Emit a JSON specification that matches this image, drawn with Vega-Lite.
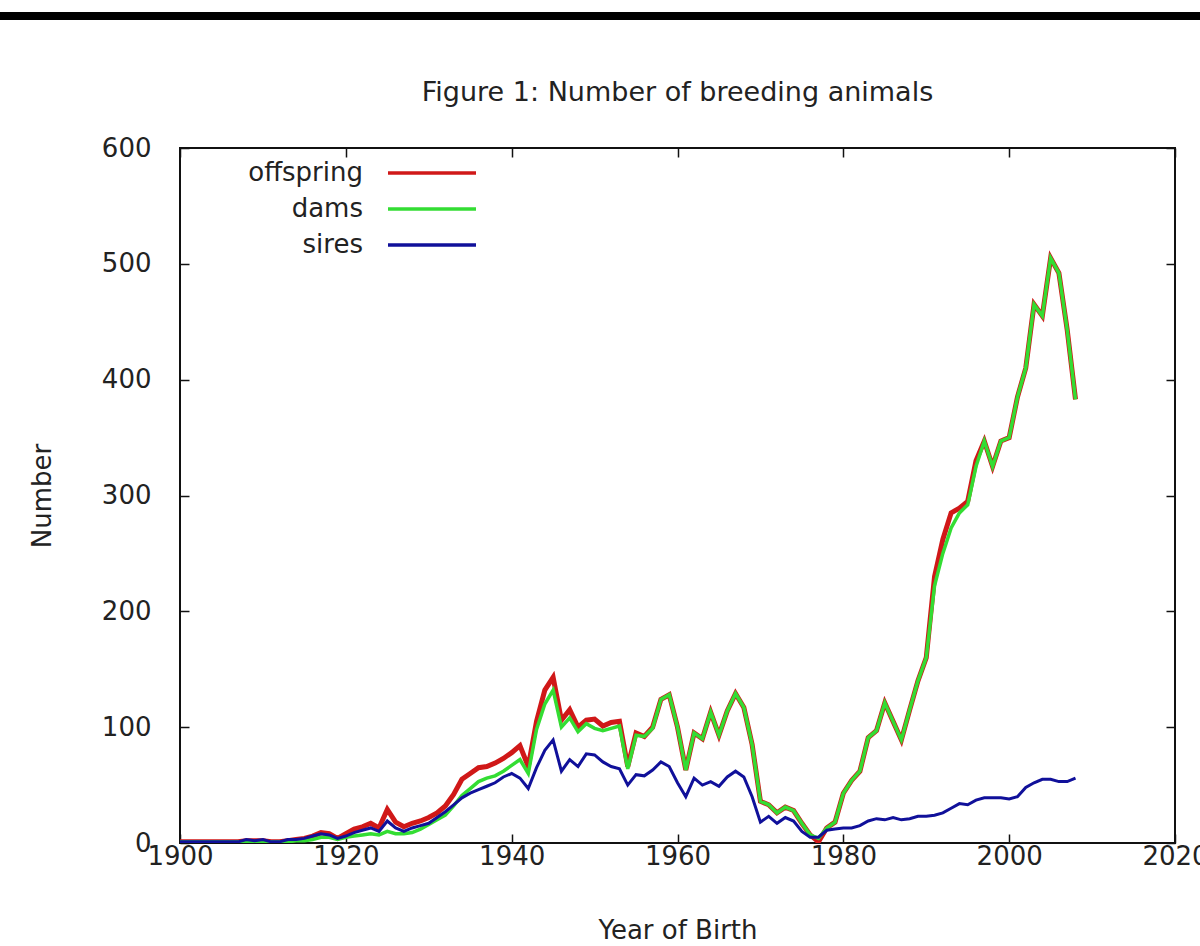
{
  "$schema": "https://vega.github.io/schema/vega-lite/v6.json",
  "width": 995,
  "height": 695,
  "autosize": {"type": "none"},
  "padding": {"left": 180, "top": 148, "right": 25, "bottom": 103},
  "background": "white",
  "title": {"text": "Figure 1: Number of breeding animals", "fontSize": 27, "font": "DejaVu Sans", "fontWeight": "normal", "color": "#222", "baseline": "alphabetic", "offset": -116},
  "config": {
    "view": {"stroke": "#111", "strokeWidth": 2},
    "axis": {"labelFont": "DejaVu Sans", "labelFontSize": 26, "labelColor": "#222", "titleFont": "DejaVu Sans", "titleFontSize": 26, "titleFontWeight": "normal", "titleColor": "#222", "grid": false, "domain": false, "tickColor": "#111", "tickWidth": 1.5, "tickSize": -9, "labelFlush": false},
    "legend": {"orient": "none", "legendX": 239, "legendY": 12, "direction": "vertical", "padding": 0, "symbolType": "M-8,0H8", "symbolSize": 121, "symbolStrokeWidth": 3.5, "rowPadding": 10, "labelAlign": "right", "labelOffset": -82, "labelFont": "DejaVu Sans", "labelFontSize": 26, "labelColor": "#222", "labelLimit": 0, "title": null}
  },
  "data": {"values": [
    {"year": 1900, "offspring": 1, "dams": 1, "sires": 1},
    {"year": 1901, "offspring": 1, "dams": 1, "sires": 1},
    {"year": 1902, "offspring": 1, "dams": 1, "sires": 1},
    {"year": 1903, "offspring": 1, "dams": 1, "sires": 1},
    {"year": 1904, "offspring": 1, "dams": 1, "sires": 1},
    {"year": 1905, "offspring": 1, "dams": 1, "sires": 1},
    {"year": 1906, "offspring": 1, "dams": 1, "sires": 1},
    {"year": 1907, "offspring": 1, "dams": 1, "sires": 1},
    {"year": 1908, "offspring": 2, "dams": 1, "sires": 3},
    {"year": 1909, "offspring": 2, "dams": 1, "sires": 2},
    {"year": 1910, "offspring": 2, "dams": 1, "sires": 3},
    {"year": 1911, "offspring": 1, "dams": 1, "sires": 1},
    {"year": 1912, "offspring": 1, "dams": 1, "sires": 1},
    {"year": 1913, "offspring": 2, "dams": 1, "sires": 3},
    {"year": 1914, "offspring": 3, "dams": 2, "sires": 3},
    {"year": 1915, "offspring": 4, "dams": 2, "sires": 4},
    {"year": 1916, "offspring": 6, "dams": 3, "sires": 6},
    {"year": 1917, "offspring": 9, "dams": 5, "sires": 8},
    {"year": 1918, "offspring": 8, "dams": 5, "sires": 7},
    {"year": 1919, "offspring": 4, "dams": 3, "sires": 4},
    {"year": 1920, "offspring": 8, "dams": 5, "sires": 6},
    {"year": 1921, "offspring": 12, "dams": 6, "sires": 9},
    {"year": 1922, "offspring": 14, "dams": 7, "sires": 11},
    {"year": 1923, "offspring": 17, "dams": 8, "sires": 13},
    {"year": 1924, "offspring": 13, "dams": 7, "sires": 10},
    {"year": 1925, "offspring": 29, "dams": 10, "sires": 19},
    {"year": 1926, "offspring": 18, "dams": 8, "sires": 13},
    {"year": 1927, "offspring": 14, "dams": 8, "sires": 10},
    {"year": 1928, "offspring": 17, "dams": 9, "sires": 13},
    {"year": 1929, "offspring": 19, "dams": 12, "sires": 15},
    {"year": 1930, "offspring": 22, "dams": 16, "sires": 17},
    {"year": 1931, "offspring": 26, "dams": 20, "sires": 22},
    {"year": 1932, "offspring": 32, "dams": 24, "sires": 27},
    {"year": 1933, "offspring": 42, "dams": 32, "sires": 33},
    {"year": 1934, "offspring": 55, "dams": 41, "sires": 39},
    {"year": 1935, "offspring": 60, "dams": 47, "sires": 43},
    {"year": 1936, "offspring": 65, "dams": 53, "sires": 46},
    {"year": 1937, "offspring": 66, "dams": 56, "sires": 49},
    {"year": 1938, "offspring": 69, "dams": 58, "sires": 52},
    {"year": 1939, "offspring": 73, "dams": 62, "sires": 57},
    {"year": 1940, "offspring": 78, "dams": 67, "sires": 60},
    {"year": 1941, "offspring": 84, "dams": 72, "sires": 56},
    {"year": 1942, "offspring": 66, "dams": 60, "sires": 47},
    {"year": 1943, "offspring": 105, "dams": 98, "sires": 65},
    {"year": 1944, "offspring": 132, "dams": 120, "sires": 80},
    {"year": 1945, "offspring": 143, "dams": 132, "sires": 89},
    {"year": 1946, "offspring": 106, "dams": 100, "sires": 62},
    {"year": 1947, "offspring": 115, "dams": 108, "sires": 72},
    {"year": 1948, "offspring": 100, "dams": 96, "sires": 66},
    {"year": 1949, "offspring": 106, "dams": 103, "sires": 77},
    {"year": 1950, "offspring": 107, "dams": 99, "sires": 76},
    {"year": 1951, "offspring": 101, "dams": 97, "sires": 70},
    {"year": 1952, "offspring": 104, "dams": 99, "sires": 66},
    {"year": 1953, "offspring": 105, "dams": 101, "sires": 64},
    {"year": 1954, "offspring": 66, "dams": 64, "sires": 50},
    {"year": 1955, "offspring": 95, "dams": 93, "sires": 59},
    {"year": 1956, "offspring": 92, "dams": 92, "sires": 58},
    {"year": 1957, "offspring": 100, "dams": 99, "sires": 63},
    {"year": 1958, "offspring": 124, "dams": 124, "sires": 70},
    {"year": 1959, "offspring": 128, "dams": 128, "sires": 66},
    {"year": 1960, "offspring": 100, "dams": 100, "sires": 52},
    {"year": 1961, "offspring": 63, "dams": 63, "sires": 40},
    {"year": 1962, "offspring": 95, "dams": 95, "sires": 56},
    {"year": 1963, "offspring": 90, "dams": 90, "sires": 50},
    {"year": 1964, "offspring": 113, "dams": 113, "sires": 53},
    {"year": 1965, "offspring": 93, "dams": 93, "sires": 49},
    {"year": 1966, "offspring": 114, "dams": 114, "sires": 57},
    {"year": 1967, "offspring": 129, "dams": 129, "sires": 62},
    {"year": 1968, "offspring": 117, "dams": 117, "sires": 57},
    {"year": 1969, "offspring": 85, "dams": 85, "sires": 40},
    {"year": 1970, "offspring": 36, "dams": 36, "sires": 18},
    {"year": 1971, "offspring": 33, "dams": 33, "sires": 23},
    {"year": 1972, "offspring": 26, "dams": 26, "sires": 17},
    {"year": 1973, "offspring": 31, "dams": 31, "sires": 22},
    {"year": 1974, "offspring": 28, "dams": 28, "sires": 19},
    {"year": 1975, "offspring": 17, "dams": 17, "sires": 10},
    {"year": 1976, "offspring": 7, "dams": 7, "sires": 5},
    {"year": 1977, "offspring": 1, "dams": 4, "sires": 5},
    {"year": 1978, "offspring": 13, "dams": 13, "sires": 11},
    {"year": 1979, "offspring": 18, "dams": 18, "sires": 12},
    {"year": 1980, "offspring": 43, "dams": 43, "sires": 13},
    {"year": 1981, "offspring": 54, "dams": 54, "sires": 13},
    {"year": 1982, "offspring": 62, "dams": 62, "sires": 15},
    {"year": 1983, "offspring": 91, "dams": 91, "sires": 19},
    {"year": 1984, "offspring": 97, "dams": 97, "sires": 21},
    {"year": 1985, "offspring": 121, "dams": 121, "sires": 20},
    {"year": 1986, "offspring": 105, "dams": 105, "sires": 22},
    {"year": 1987, "offspring": 89, "dams": 89, "sires": 20},
    {"year": 1988, "offspring": 115, "dams": 115, "sires": 21},
    {"year": 1989, "offspring": 140, "dams": 140, "sires": 23},
    {"year": 1990, "offspring": 160, "dams": 160, "sires": 23},
    {"year": 1991, "offspring": 230, "dams": 222, "sires": 24},
    {"year": 1992, "offspring": 262, "dams": 250, "sires": 26},
    {"year": 1993, "offspring": 285, "dams": 272, "sires": 30},
    {"year": 1994, "offspring": 289, "dams": 285, "sires": 34},
    {"year": 1995, "offspring": 295, "dams": 292, "sires": 33},
    {"year": 1996, "offspring": 330, "dams": 325, "sires": 37},
    {"year": 1997, "offspring": 347, "dams": 347, "sires": 39},
    {"year": 1998, "offspring": 325, "dams": 325, "sires": 39},
    {"year": 1999, "offspring": 347, "dams": 347, "sires": 39},
    {"year": 2000, "offspring": 350, "dams": 350, "sires": 38},
    {"year": 2001, "offspring": 385, "dams": 385, "sires": 40},
    {"year": 2002, "offspring": 410, "dams": 410, "sires": 48},
    {"year": 2003, "offspring": 465, "dams": 465, "sires": 52},
    {"year": 2004, "offspring": 455, "dams": 455, "sires": 55},
    {"year": 2005, "offspring": 505, "dams": 505, "sires": 55},
    {"year": 2006, "offspring": 492, "dams": 492, "sires": 53},
    {"year": 2007, "offspring": 443, "dams": 443, "sires": 53},
    {"year": 2008, "offspring": 383, "dams": 383, "sires": 56}
  ]},
  "layer": [
    {
      "mark": {"type": "line", "strokeWidth": 5, "clip": true},
      "encoding": {
        "x": {"field": "year", "type": "quantitative", "scale": {"domain": [1900, 2020], "nice": false, "zero": false},
              "axis": {"orient": "bottom", "values": [1900, 1920, 1940, 1960, 1980, 2000, 2020], "format": "d", "labelPadding": 9, "title": "Year of Birth", "titlePadding": 48}},
        "y": {"field": "offspring", "type": "quantitative", "scale": {"domain": [0, 600], "nice": false},
              "axis": {"orient": "left", "values": [0, 100, 200, 300, 400, 500, 600], "labelPadding": 38, "title": "Number", "titlePadding": 46}},
        "color": {"datum": "offspring", "scale": {"domain": ["offspring", "dams", "sires"], "range": ["#d01818", "#33dd33", "#10109a"]}}
      }
    },
    {
      "mark": {"type": "line", "strokeWidth": 3.5, "clip": true},
      "encoding": {
        "x": {"field": "year", "type": "quantitative", "axis": null},
        "y": {"field": "dams", "type": "quantitative", "axis": null},
        "color": {"datum": "dams"}
      }
    },
    {
      "mark": {"type": "line", "strokeWidth": 3, "clip": true},
      "encoding": {
        "x": {"field": "year", "type": "quantitative", "axis": null},
        "y": {"field": "sires", "type": "quantitative", "axis": null},
        "color": {"datum": "sires"}
      }
    },
    {
      "mark": {"type": "rule", "color": "#000", "strokeWidth": 7},
      "encoding": {
        "x": {"datum": 1878, "type": "quantitative", "axis": {"orient": "top", "values": [1900, 1920, 1940, 1960, 1980, 2000, 2020], "labels": false, "title": null}},
        "x2": {"datum": 2026},
        "y": {"datum": 714, "type": "quantitative", "axis": {"orient": "right", "values": [0, 100, 200, 300, 400, 500, 600], "labels": false, "title": null}}
      }
    }
  ],
  "resolve": {"axis": {"x": "independent", "y": "independent"}}
}
